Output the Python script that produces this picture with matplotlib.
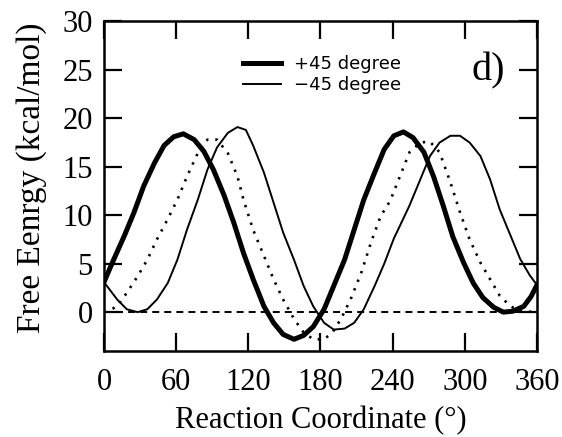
import matplotlib.pyplot as plt
import numpy as np

# +45 degree (thick)
x_p45 = [0, 8, 17, 25, 33, 42, 50, 58, 66, 75, 83, 91, 100, 108, 116, 124, 133, 141, 149,
         158, 166, 174, 183, 191, 200, 208, 216, 225, 233, 241, 249, 257, 266, 274, 282,
         290, 299, 307, 315, 324, 332, 340, 349, 355, 360]
y_p45 = [3.1, 5.4, 7.9, 10.3, 13.0, 15.4, 17.2, 18.1, 18.4, 17.8, 16.6, 14.7, 12.0, 9.2, 6.1, 3.4, 0.6, -1.1, -2.3,
         -2.8, -2.4, -1.5, 0.3, 2.7, 5.4, 8.5, 11.6, 14.4, 16.8, 18.2, 18.6, 18.0, 16.5, 14.0, 11.0,
         7.8, 5.1, 3.0, 1.5, 0.5, 0.0, 0.1, 0.6, 1.6, 2.8]

# -45 degree (thin)
x_m45 = [0, 11, 19, 28, 36, 44, 53, 61, 69, 78, 86, 94, 103, 111, 118, 124, 133, 141, 149,
         158, 166, 174, 183, 191, 200, 208, 216, 225, 233, 241, 246, 254, 263, 271, 279,
         288, 296, 304, 313, 321, 329, 338, 346, 354, 360]
y_m45 = [3.1, 1.3, 0.3, 0.0, 0.3, 1.3, 3.0, 5.4, 8.5, 11.6, 14.7, 17.0, 18.5, 19.1, 18.8, 17.2, 14.4, 11.3, 8.2,
         5.4, 2.7, 0.6, -1.1, -1.8, -1.7, -1.1, 0.3, 2.7, 5.0, 7.6, 8.9, 11.0, 13.7, 16.1, 17.5,
         18.2, 18.2, 17.5, 16.1, 13.7, 10.6, 7.9, 5.5, 3.8, 2.8]

# reference (dotted)
x_ref = [0, 3, 11, 19, 28, 36, 44, 53, 61, 69, 78, 86, 94, 103, 111, 116, 124, 133, 141,
         149, 158, 166, 174, 183, 190, 197, 205, 214, 222, 230, 238, 246, 254, 263, 271,
         279, 288, 296, 304, 313, 321, 329, 338, 346, 360]
y_ref = [0.0, 0.1, 0.6, 2.0, 3.7, 5.4, 7.5, 9.6, 11.6, 14.0, 16.4, 17.8, 17.8, 16.4, 14.0, 11.6, 8.5, 5.8, 3.4,
         1.3, -0.7, -2.1, -2.8, -2.8, -2.1, -0.7, 1.3, 4.1, 7.2, 9.9, 11.5, 14.0, 16.5, 17.5, 17.6,
         16.5, 13.4, 10.3, 7.5, 5.1, 3.4, 1.7, 0.6, 0.1, 0.0]

fig = plt.figure(figsize=(5.62, 4.37), dpi=100)
ax = fig.add_axes([0.185, 0.197, 0.7705, 0.754])

ax.axhline(0, color='black', lw=1.4, ls=(0, (3.6, 2.6)))
ax.plot(x_ref, y_ref, color='black', lw=1.9, ls=(0, (0.9, 2.6)))
ax.plot(x_m45, y_m45, color='black', lw=1.4, label='\u221245 degree')
ax.plot(x_p45, y_p45, color='black', lw=3.6, label='+45 degree')

ax.set_xlim(0, 360)
ax.set_ylim(-4, 30)
ax.set_xticks(np.arange(0, 361, 60))
ax.set_yticks(np.arange(0, 31, 5))

serif = 'Liberation Serif'
ax.set_xticklabels([str(v) for v in range(0, 361, 60)], family=serif, fontsize=22)
ax.set_yticklabels([str(v) for v in range(0, 31, 5)], family=serif, fontsize=22)
ax.tick_params(direction='in', length=13, width=1.6, top=True, right=True)
ax.tick_params(axis='x', pad=12)
ax.tick_params(axis='y', pad=8)
for spine in ax.spines.values():
    spine.set_linewidth(1.8)

ax.set_xlabel('Reaction Coordinate (\u00b0)', family=serif, fontsize=22, labelpad=7)
ax.set_ylabel('Free Eenrgy (kcal/mol)', family=serif, fontsize=24)
ax.yaxis.set_label_coords(-0.132, 0.525)

handles, labels = ax.get_legend_handles_labels()
ax.legend(handles[::-1], labels[::-1], loc='upper left', bbox_to_anchor=(0.321, 0.897),
          frameon=False, fontsize=13, handlelength=2.1, handletextpad=0.7,
          labelspacing=0.15, borderpad=0, borderaxespad=0)

ax.text(0.925, 0.85, 'd)', transform=ax.transAxes, family=serif, fontsize=29,
        ha='right', va='center')

fig.savefig('out.png', dpi=100)
